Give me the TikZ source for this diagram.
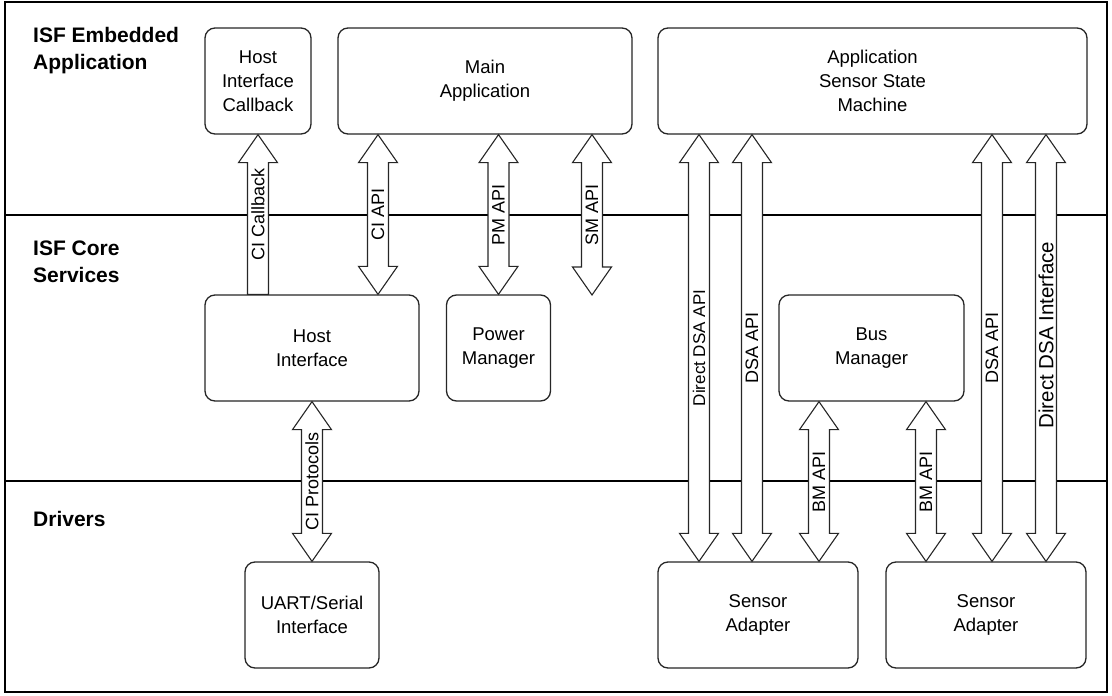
\documentclass[tikz,border=0pt]{standalone}
\usepackage{fontspec}
\setmainfont{Liberation Sans}
\usetikzlibrary{calc}

% Hollow two-headed arrow between two points, with a rotated label in the middle
\newcommand\biarrow[4][]{%
  \path[hollow] let \p1=(#2), \p2=(#3) in
    (\x1,\y1) -- (\x1+19.5pt,\y1-28pt) -- (\x1+10.5pt,\y1-28pt)
    -- (\x1+10.5pt,\y2+28pt) -- (\x1+19.5pt,\y2+28pt) -- (\x1,\y2)
    -- (\x1-19.5pt,\y2+28pt) -- (\x1-10.5pt,\y2+28pt)
    -- (\x1-10.5pt,\y1-28pt) -- (\x1-19.5pt,\y1-28pt) -- cycle;
  \node[alabel,#1] at ($(#2)!0.5!(#3)$) {#4};
}
% Hollow arrow with a head at the upper end only
\newcommand\headup[4][]{%
  \path[hollow] let \p1=(#2), \p2=(#3) in
    (\x1,\y1) -- (\x1+19.5pt,\y1-28pt) -- (\x1+10.5pt,\y1-28pt)
    -- (\x1+10.5pt,\y2) -- (\x1-10.5pt,\y2)
    -- (\x1-10.5pt,\y1-28pt) -- (\x1-19.5pt,\y1-28pt) -- cycle;
  \node[alabel,#1] at ($(#2)!0.5!(#3)$) {#4};
}

\begin{document}
\begin{tikzpicture}[x=1pt,y=-1pt,
  box/.style={draw=black!85, line width=1.3pt, rounded corners=10pt, fill=white,
    align=center, inner sep=0pt, minimum height=106pt,
    font=\fontsize{18.5}{24}\selectfont},
  layer/.style={anchor=north west, align=left, inner sep=0pt,
    font=\fontsize{21}{27}\selectfont\bfseries},
  hollow/.style={draw=black!85, line width=1.1pt, fill=white, line join=miter},
  alabel/.style={rotate=90, inner sep=0pt, font=\fontsize{18}{20}\selectfont},
  sep/.style={line width=2.8pt}
]
\useasboundingbox (0,0) rectangle (1112,696);

% frame and layer separators
\draw[line width=2.4pt] (5,2) rectangle (1107,692);
\draw[sep] (5,215) -- (1107,215);
\draw[sep] (5,481) -- (1107,481);

% layer titles
\node[layer] (lyr1) at (33,27) {ISF Embedded\\Application};
\node[layer] (lyr2) at (33,241) {ISF Core\\Services};
\node[layer] (lyr3) at (33,511) {Drivers};

% components
\node[box, minimum width=106pt] (hic)  at (258,81)    {Host\\Interface\\Callback};
\node[box, minimum width=294pt] (main) at (485,81)    {Main\\Application};
\node[box, minimum width=429pt] (assm) at (872.5,81)  {Application\\Sensor State\\Machine};
\node[box, minimum width=214pt] (hi)   at (312,348)   {Host\\Interface};
\node[box, minimum width=104pt] (pm)   at (498.5,348) {Power\\Manager};
\node[box, minimum width=185pt] (bm)   at (871.5,348) {Bus\\Manager};
\node[box, minimum width=134pt] (uart) at (312,615)   {UART/Serial\\Interface};
\node[box, minimum width=200pt] (sa1)  at (758,615)   {Sensor\\Adapter};
\node[box, minimum width=200pt] (sa2)  at (986,615)   {Sensor\\Adapter};

% free end of the SM API arrow
\coordinate (smend) at (592,295);

% interfaces between layers
\headup{hic.south}{hic.south |- hi.north}{CI Callback}
\biarrow{main.south -| 378,0}{hi.north -| 378,0}{CI API}
\biarrow{pm.north |- main.south}{pm.north}{PM API}
\biarrow{smend |- main.south}{smend}{SM API}
\biarrow{hi.south}{uart.north}{CI Protocols}
\biarrow[font=\fontsize{17}{20}\selectfont]{assm.south -| 699,0}{sa1.north -| 699,0}{Direct DSA API}
\biarrow{assm.south -| 752,0}{sa1.north -| 752,0}{DSA API}
\biarrow{bm.south -| 819,0}{sa1.north -| 819,0}{BM API}
\biarrow{bm.south -| 926,0}{sa2.north -| 926,0}{BM API}
\biarrow{assm.south -| 992,0}{sa2.north -| 992,0}{DSA API}
% label runs along the arrow; xshift moves it up the shaft after rotation
\biarrow[font=\fontsize{20.5}{24}\selectfont, xshift=13pt]{assm.south -| 1046,0}{sa2.north -| 1046,0}{Direct DSA Interface}
\end{tikzpicture}
\end{document}
